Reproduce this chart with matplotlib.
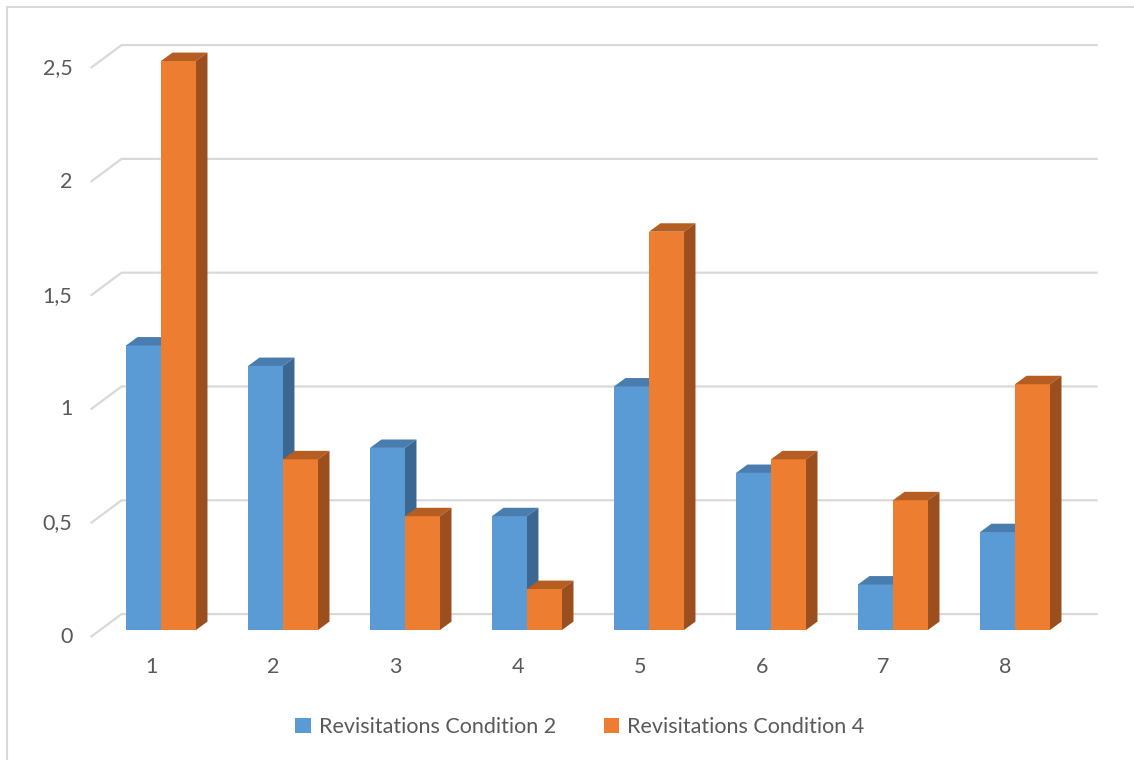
import numpy as np
import matplotlib.pyplot as plt
from matplotlib.patches import Polygon, Rectangle, Patch

# data
categories = [1, 2, 3, 4, 5, 6, 7, 8]
cond2 = [1.25, 1.16, 0.80, 0.50, 1.07, 0.69, 0.20, 0.43]
cond4 = [2.50, 0.75, 0.50, 0.18, 1.75, 0.75, 0.57, 1.08]
series_names = ['Revisitations Condition 2', 'Revisitations Condition 4']
yticks = [0, 0.5, 1, 1.5, 2, 2.5]

# face colours: front, top, side
blue = ('#5B9BD5', '#4A7DAF', '#3C6790')
orange = ('#ED7D31', '#B65D22', '#9C4F1E')
grid_col = '#D9D9D9'
text_col = '#595959'

# fake-3d geometry, in data units
W = 0.287            # bar width (category units)
DX, DY = 0.094, 0.037   # bar depth offset
FX, FY = -0.077, -0.031  # floor front edge relative to bar front
BX, BY = 0.177, 0.070   # back wall relative to bar front

plt.rcParams['font.family'] = ['Lato', 'DejaVu Sans']
FS = 15.5

fig = plt.figure(figsize=(11.34, 7.6), dpi=100)
ax = fig.add_axes([0, 0, 1, 1])
ax.set_xlim(-0.3197, 8.9754)
ax.set_ylim(-0.5712, 2.768)
ax.axis('off')

# chart border
fig.add_artist(Rectangle((7 / 1134, -0.1), 1.2, 1.1 - 7 / 760, transform=fig.transFigure,
                         fill=False, edgecolor=grid_col, linewidth=1.5))

# gridlines on the back wall with the side wall edge
x_left, x_right = 0.5, 8.5
for v in yticks:
    ax.plot([x_left + FX, x_left + BX, x_right + BX], [v + FY, v + BY, v + BY],
            color=grid_col, linewidth=1.6, zorder=1, solid_capstyle='butt')
    ax.text(x_left + FX - 0.15, v + FY, f'{v:g}'.replace('.', ','), ha='right', va='center',
            fontsize=FS, color=text_col)

cats = np.array(categories, dtype=float)


def draw_series(x0s, vals, cols, z):
    ax.bar(x0s, vals, width=W, align='edge', color=cols[0], zorder=z)
    for x0, v in zip(x0s, vals):
        top = [(x0, v), (x0 + W, v), (x0 + W + DX, v + DY), (x0 + DX, v + DY)]
        side = [(x0 + W, 0), (x0 + W, v), (x0 + W + DX, v + DY), (x0 + W + DX, DY)]
        ax.add_patch(Polygon(top, closed=True, facecolor=cols[1], edgecolor='none', zorder=z))
        ax.add_patch(Polygon(side, closed=True, facecolor=cols[2], edgecolor='none', zorder=z))


draw_series(cats - W, cond2, blue, 2)
draw_series(cats, cond4, orange, 3)

# category labels along the floor front edge
for c in categories:
    ax.text(c + FX, -0.163, str(c), ha='center', va='center', fontsize=FS, color=text_col)

handles = [Patch(facecolor=blue[0]), Patch(facecolor=orange[0])]
fig.legend(handles, series_names, loc='center', bbox_to_anchor=(580 / 1134, 1 - 727 / 760),
           ncol=2, frameon=False, handlelength=0.7, handleheight=0.7, handletextpad=0.4,
           columnspacing=2.2, fontsize=FS, labelcolor=text_col)

fig.savefig('out.png', dpi=100)
